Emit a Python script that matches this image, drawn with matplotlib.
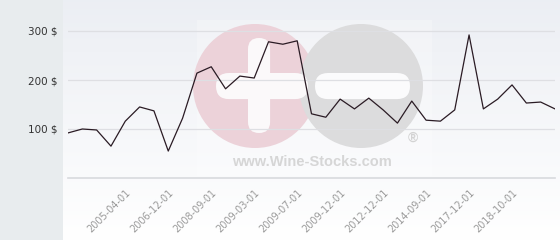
import matplotlib
matplotlib.use("Agg")
import matplotlib.pyplot as plt
import numpy as np
from matplotlib.patches import Circle, FancyBboxPatch, Rectangle

values = [92, 100, 98, 65, 116, 145, 137, 55, 122, 214, 227, 182, 208, 204,
          278, 273, 280, 131, 124, 161, 141, 163, 139, 112, 157, 118, 116, 139,
          292, 141, 161, 190, 153, 155, 141]
tick_labels = ["2005-04-01", "2006-12-01", "2008-09-01", "2009-03-01", "2009-07-01",
               "2009-12-01", "2012-12-01", "2014-09-01", "2017-12-01", "2018-10-01"]
tick_index = [4, 7, 10, 13, 16, 19, 22, 25, 28, 31]
y_ticks = [100, 200, 300]
y_labels = ["100 $", "200 $", "300 $"]

W, H = 560, 240
fig = plt.figure(figsize=(W / 100, H / 100), dpi=100)

# background layer in pixel coordinates
bg = fig.add_axes([0, 0, 1, 1], zorder=0)
bg.set_xlim(0, W)
bg.set_ylim(H, 0)
bg.axis("off")
grad = np.linspace(0, 1, 256).reshape(-1, 1)
top = np.array([0.925, 0.935, 0.955])
bot = np.array([1.0, 1.0, 1.0])
img = top[None, None, :] * (1 - grad[..., None]) + bot[None, None, :] * grad[..., None]
bg.imshow(img, extent=[0, W, H, 0], aspect="auto", zorder=0)
bg.add_patch(Rectangle((0, 0), 63, H, color="#e8ecee", zorder=1, lw=0))

# watermark
bg.add_patch(Rectangle((197, 20), 235, 156, color="white", alpha=0.25, lw=0, zorder=2))
bg.add_patch(Circle((255, 86), 62, color="#ecd2d9", lw=0, zorder=3))
bg.add_patch(Circle((361, 86), 62, color="#dcdcdd", lw=0, zorder=4))
bg.add_patch(FancyBboxPatch((259, 49), 0.1, 73, boxstyle="round,pad=11",
                            color="#fbf9fa", lw=0, zorder=5))
bg.add_patch(FancyBboxPatch((229, 86), 66, 0.1, boxstyle="round,pad=13",
                            color="#fbf9fa", lw=0, zorder=5))
bg.add_patch(FancyBboxPatch((328, 86), 69, 0.1, boxstyle="round,pad=13",
                            color="#fbfbfc", lw=0, zorder=5))
bg.text(312, 162, "www.Wine-Stocks.com", ha="center", va="center", fontsize=10.5,
        fontweight="bold", color="#d6d6d6", family="Liberation Sans", zorder=6)
bg.text(413, 138, "®", ha="center", va="center", fontsize=10,
        fontweight="bold", color="#d3d3d3", family="Liberation Sans", zorder=6)

# main plot
ax = fig.add_axes([68 / W, (H - 178) / H, (555 - 68) / W, (178 - 6.5) / H], zorder=1)
ax.patch.set_alpha(0)
x = np.arange(len(values))
ax.plot(x, values, color="#2a1b24", lw=0.9, zorder=3)
ax.set_xlim(0, len(values) - 1)
ax.set_ylim(0, 350)
for v in y_ticks:
    ax.axhline(v, color="#dedfe3", lw=0.9, zorder=1)
ax.axhline(0, color="#d8dadd", lw=1.2, zorder=1, clip_on=False)
for s in ax.spines.values():
    s.set_visible(False)
ax.set_yticks(y_ticks)
ax.set_yticklabels(y_labels, fontsize=7.5, color="#333333", family="DejaVu Sans")
ax.tick_params(axis="y", length=0, pad=7.5)
ax.set_xticks(tick_index)
ax.set_xticklabels(tick_labels, rotation=45, ha="right", rotation_mode="anchor",
                   fontsize=7, color="#9a9a9a", family="DejaVu Sans")
ax.tick_params(axis="x", length=0, pad=7)

fig.savefig("out.png", dpi=100)
